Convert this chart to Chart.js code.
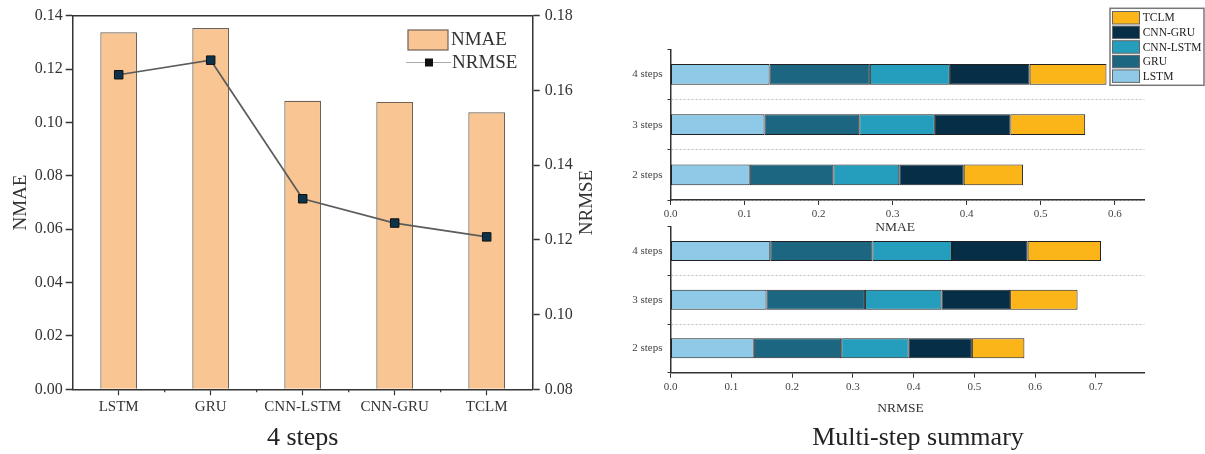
<!DOCTYPE html>
<html>
<head>
<meta charset="utf-8">
<script src="https://cdn.jsdelivr.net/npm/chart.js@4.4.1/dist/chart.umd.min.js"></script>
<style>
  html, body { margin: 0; padding: 0; background: #fff; }
  #wrap { position: relative; width: 1205px; height: 454px; overflow: hidden; }
  canvas { position: absolute; }
</style>
</head>
<body>
<div id="wrap">
  <canvas id="left" width="600" height="454" style="left:0;top:0;width:600px;height:454px"></canvas>
  <canvas id="topChart" width="605" height="240" style="left:600px;top:0;width:605px;height:240px"></canvas>
  <canvas id="bottomChart" width="605" height="239" style="left:600px;top:215px;width:605px;height:239px"></canvas>
</div>
<script>
const serif = '"Liberation Serif", "Times New Roman", serif';

// data
const models = ['LSTM', 'GRU', 'CNN-LSTM', 'CNN-GRU', 'TCLM'];
const steps = ['4 steps', '3 steps', '2 steps'];

const nmae4 = [0.1338, 0.1354, 0.1081, 0.1077, 0.1038];
const nmae3 = [0.127, 0.128, 0.102, 0.102, 0.101];
const nmae2 = [0.107, 0.113, 0.089, 0.087, 0.080];

const nrmse4 = [0.1642, 0.1681, 0.1310, 0.1245, 0.1208];
const nrmse3 = [0.158, 0.162, 0.126, 0.113, 0.111];
const nrmse2 = [0.137, 0.144, 0.111, 0.104, 0.0865];

const modelColors = ['#8EC9E7', '#1C6682', '#249EBC', '#062E47', '#FCB519'];

// ---------- left: 4 steps bar + line ----------
const leftExtras = {
  id: 'leftExtras',
  afterDraw(chart) {
    const ctx = chart.ctx;
    const area = chart.chartArea;
    const bar = chart.data.datasets[0];
    const line = chart.data.datasets[1];
    const xs = chart.scales.x;
    ctx.save();
    // top frame line
    ctx.strokeStyle = '#333';
    ctx.lineWidth = 1.5;
    ctx.beginPath();
    ctx.moveTo(area.left, area.top);
    ctx.lineTo(area.right, area.top);
    ctx.stroke();

    // small ticks between categories
    ctx.lineWidth = 1.2;
    for (let i = 0; i < models.length - 1; i++) {
      const x = (xs.getPixelForTick(i) + xs.getPixelForTick(i + 1)) / 2;
      ctx.beginPath();
      ctx.moveTo(x, area.bottom);
      ctx.lineTo(x, area.bottom + 3);
      ctx.stroke();
    }

    // legend
    ctx.fillStyle = bar.backgroundColor;
    ctx.fillRect(408, 30, 40, 20);
    ctx.strokeStyle = bar.borderColor;
    ctx.lineWidth = 1.2;
    ctx.strokeRect(408, 30, 40, 20);
    ctx.font = '19px ' + serif;
    ctx.textBaseline = 'middle';
    ctx.fillStyle = '#333';
    ctx.fillText(bar.label, 451, 40);

    ctx.strokeStyle = '#aaa';
    ctx.lineWidth = 1.2;
    ctx.beginPath();
    ctx.moveTo(406, 62.5);
    ctx.lineTo(451, 62.5);
    ctx.stroke();
    ctx.fillStyle = '#111';
    ctx.fillRect(425, 58.5, 8, 8);
    ctx.fillStyle = '#333';
    ctx.fillText(line.label, 452, 63);

    // right axis title, reading bottom to top
    ctx.translate(587, (area.top + area.bottom) / 2);
    ctx.rotate(-Math.PI / 2);
    ctx.textAlign = 'center';
    ctx.font = '19px ' + serif;
    ctx.fillText('NRMSE', 0, 0);
    ctx.restore();
  }
};

new Chart(document.getElementById('left'), {
  type: 'bar',
  data: {
    labels: models,
    datasets: [
      {
        type: 'bar',
        label: 'NMAE',
        data: nmae4,
        yAxisID: 'y',
        backgroundColor: '#F9C593',
        borderColor: '#6e6257',
        borderWidth: 1.2,
        barPercentage: 0.4,
        categoryPercentage: 1,
        order: 1
      },
      {
        type: 'line',
        label: 'NRMSE',
        data: nrmse4,
        yAxisID: 'y1',
        borderColor: '#5c5c5c',
        borderWidth: 1.7,
        pointStyle: 'rect',
        pointRadius: 6,
        pointBackgroundColor: '#0c3349',
        pointBorderColor: '#111',
        pointBorderWidth: 1,
        order: 0
      }
    ]
  },
  options: {
    responsive: false,
    animation: false,
    layout: { padding: { top: 15.7, left: 0, right: 0, bottom: 0 } },
    plugins: { legend: { display: false }, tooltip: { enabled: false } },
    scales: {
      x: {
        grid: { drawOnChartArea: false, offset: false, tickLength: 6, color: '#333', tickWidth: 1.2 },
        border: { color: '#333', width: 1.5 },
        ticks: { padding: 3, color: '#333', font: { family: serif, size: 15 } },
        title: { display: true, text: '4 steps', color: '#222', font: { family: serif, size: 26 }, padding: { top: 0, bottom: 0 } },
        afterFit(scale) { scale.height = 64.7; }
      },
      y: {
        position: 'left',
        min: 0,
        max: 0.14,
        ticks: { stepSize: 0.02, padding: 3, color: '#333', font: { family: serif, size: 16 }, callback: v => v.toFixed(2) },
        grid: { drawOnChartArea: false, tickLength: 7, color: '#333', tickWidth: 1.5 },
        border: { color: '#333', width: 1.5 },
        title: { display: true, text: 'NMAE', color: '#333', font: { family: serif, size: 19 }, padding: { top: 10, bottom: 0 } },
        afterFit(scale) { scale.width = 72.7; }
      },
      y1: {
        position: 'right',
        min: 0.08,
        max: 0.18,
        ticks: { stepSize: 0.02, padding: 5, color: '#333', font: { family: serif, size: 16 }, callback: v => v.toFixed(2) },
        grid: { drawOnChartArea: false, tickLength: 7, color: '#333', tickWidth: 1.5 },
        border: { color: '#333', width: 1.5 },
        afterFit(scale) { scale.width = 67.3; }
      }
    }
  },
  plugins: [leftExtras]
});

// ---------- right: stacked summaries ----------
function stackDatasets(v4, v3, v2) {
  return models.map((m, i) => ({
    label: m,
    data: [v4[i], v3[i], v2[i]],
    backgroundColor: modelColors[i],
    borderColor: '#222',
    borderWidth: 1,
    borderSkipped: false,
    barPercentage: 0.41,
    categoryPercentage: 1
  }));
}

function stackOptions(xMax, padTop, axisHeight) {
  return {
    responsive: false,
    animation: false,
    indexAxis: 'y',
    layout: { padding: { top: padTop, right: 60.6, left: 0, bottom: 0 } },
    plugins: { legend: { display: false }, tooltip: { enabled: false } },
    scales: {
      x: {
        stacked: true,
        min: 0,
        max: xMax,
        ticks: { stepSize: 0.1, includeBounds: false, padding: 3, color: '#444', font: { family: serif, size: 11 }, callback: v => v.toFixed(1) },
        grid: { drawOnChartArea: false, tickLength: 5, color: '#333' },
        border: { color: '#333', width: 1.5 },
        afterFit(scale) { scale.height = axisHeight; }
      },
      y: {
        stacked: true,
        ticks: { padding: 5, color: '#444', font: { family: serif, size: 11 } },
        grid: {
          offset: true,
          color: ctx => ctx.index === 0 ? 'rgba(0,0,0,0)' : '#bbb',
          tickColor: '#333',
          tickLength: 3,
          lineWidth: 1
        },
        border: { color: '#333', width: 1.5, dash: [2, 2] },
        afterFit(scale) { scale.width = 70.5; }
      }
    }
  };
}

// axis title and caption drawn as text in the canvas
function textPlugin(id, items) {
  return {
    id,
    afterDraw(chart) {
      const ctx = chart.ctx;
      ctx.save();
      ctx.textAlign = 'center';
      ctx.textBaseline = 'middle';
      items.forEach(t => {
        ctx.font = t.size + 'px ' + serif;
        ctx.fillStyle = t.color;
        ctx.fillText(t.text, t.x, t.y);
      });
      ctx.restore();
    }
  };
}

const rightLegend = {
  id: 'rightLegend',
  afterDraw(chart) {
    const ctx = chart.ctx;
    const ds = chart.data.datasets.slice().reverse();
    ctx.save();
    ctx.fillStyle = '#fff';
    ctx.fillRect(510, 8.3, 94, 77);
    ctx.strokeStyle = '#777';
    ctx.lineWidth = 1.5;
    ctx.strokeRect(510, 8.3, 94, 77);
    ctx.font = '11.5px ' + serif;
    ctx.textBaseline = 'middle';
    ds.forEach((d, k) => {
      const y = 11.5 + k * 14.6;
      ctx.fillStyle = d.backgroundColor;
      ctx.fillRect(512.5, y, 27, 12.5);
      ctx.strokeStyle = '#666';
      ctx.lineWidth = 1;
      ctx.strokeRect(512.5, y, 27, 12.5);
      ctx.fillStyle = '#222';
      ctx.fillText(d.label, 542.7, y + 6.8);
    });
    ctx.restore();
  }
};

new Chart(document.getElementById('topChart'), {
  type: 'bar',
  data: { labels: steps, datasets: stackDatasets(nmae4, nmae3, nmae2) },
  options: stackOptions(0.64, 49.3, 40),
  plugins: [rightLegend, textPlugin('topText', [
    { text: 'NMAE', x: 295, y: 227.5, size: 13.5, color: '#333' }
  ])]
});

new Chart(document.getElementById('bottomChart'), {
  type: 'bar',
  data: { labels: steps, datasets: stackDatasets(nrmse4, nrmse3, nrmse2) },
  options: stackOptions(0.78, 6.7, 81.3),
  plugins: [textPlugin('bottomText', [
    { text: 'NRMSE', x: 300.6, y: 193.3, size: 13.5, color: '#333' },
    { text: 'Multi-step summary', x: 318, y: 223, size: 26, color: '#222' }
  ])]
});
</script>
</body>
</html>
